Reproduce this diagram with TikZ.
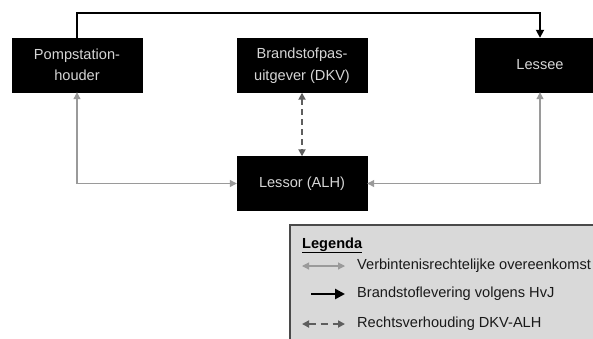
\documentclass[tikz,border=0pt]{standalone}
\usepackage{fontspec}
\setmainfont{Liberation Sans}
\usetikzlibrary{arrows.meta}

\definecolor{boxtext}{HTML}{D6D6D6}
\definecolor{relgray}{HTML}{9A9A9A}
\definecolor{dkvgray}{HTML}{5E5E5E}
\definecolor{legfill}{HTML}{D9D9D9}
\definecolor{legframe}{HTML}{4A4A4A}

\tikzset{
  party/.style={fill=black, draw=black, minimum width=130pt, minimum height=54pt,
    text=boxtext, align=center, inner sep=0pt,
    font=\fontsize{14.6}{21.5}\selectfont},
  relline/.style={draw=relgray, line width=1.1pt, {Triangle[length=7pt,width=7pt]}-{Triangle[length=7pt,width=7pt]}},
  fuelline/.style={draw=black, line width=1.8pt, -{Triangle[length=8pt,width=8pt]}},
  dkvline/.style={draw=dkvgray, line width=2pt, dash pattern=on 6pt off 4pt,
    {Triangle[length=7pt,width=7pt]}-{Triangle[length=7pt,width=7pt]}},
  legtext/.style={anchor=west, inner sep=0pt, text=black!90,
    font=\fontsize{14.6}{17}\selectfont}
}

\begin{document}
\begin{tikzpicture}[x=1pt, y=-1pt]
  \path[use as bounding box, clip] (0,0) rectangle (593,338);
%  \draw [help lines] (0,0) grid[step=50] (593,338);

  % parties
  \node [party] (pomp)   at (77,65)   {Pompstation-\\houder};
  \node [party] (dkv)    at (302,65.5) {Brandstofpas-\\uitgever (DKV)};
  \node [party] (lessee) at (540,65)  {Lessee};
  \node [party] (lessor) at (302,183.5) {Lessor (ALH)};

  % fuel delivery over the top
  \coordinate (topleft) at (77,13);
  \draw [fuelline] (pomp.north) -- (topleft) -| (lessee.north);

  % relations
  \draw [relline] (pomp.south) |- (lessor.west);
  \draw [relline] (lessee.south) |- (lessor.east);
  \draw [dkvline] (dkv.south) -- (lessor.north);

  % legend
  \draw [fill=legfill, draw=legframe, line width=1.5pt] (290,225) rectangle (640,380);
  \node [anchor=base west, inner sep=0pt, font=\fontsize{14.6}{17}\selectfont\bfseries]
    (legtitle) at (302,248) {\underline{Legenda}};
  \node [legtext] (lt1) at (357,266) {Verbintenisrechtelijke overeenkomst};
  \node [legtext] (lt2) at (357,294) {Brandstoflevering volgens HvJ};
  \node [legtext] (lt3) at (357,324) {Rechtsverhouding DKV-ALH};
  \coordinate (k1) at (302,266);
  \coordinate (k2) at (311,294);
  \coordinate (k3) at (302,324);
  \draw [relline] (k1) -- ([xshift=-12pt]lt1.west);
  \draw [fuelline, line width=2.6pt, -{Triangle[length=10pt,width=10pt]}] (k2) -- ([xshift=-12pt]lt2.west);
  \draw [dkvline, dash pattern=on 7pt off 5pt] (k3) -- ([xshift=-12pt]lt3.west);
\end{tikzpicture}
\end{document}
